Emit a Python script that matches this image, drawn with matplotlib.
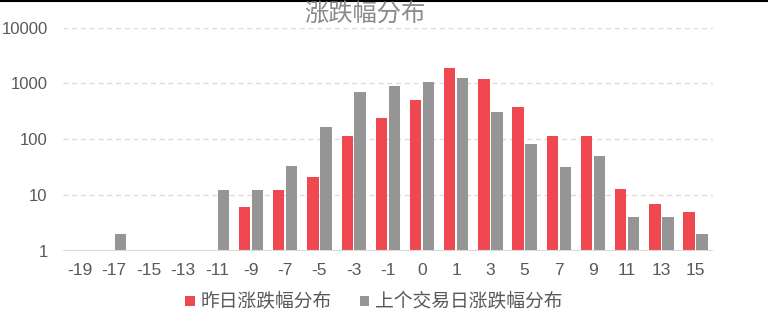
import matplotlib

matplotlib.use("Agg")

import matplotlib.pyplot as plt
import numpy as np
from matplotlib.lines import Line2D
from matplotlib.patches import Patch

plt.rcParams["font.family"] = ["Noto Sans CJK SC", "DejaVu Sans"]

categories = ["-19", "-17", "-15", "-13", "-11", "-9", "-7", "-5", "-3", "-1",
              "0", "1", "3", "5", "7", "9", "11", "13", "15"]
yesterday = [0, 0, 0, 0, 0, 6, 12, 21, 112, 237, 500, 1900, 1200, 373, 116, 112, 13, 7, 5]
prev_day = [0, 2, 0, 0, 12, 12, 33, 163, 700, 900, 1060, 1260, 304, 83, 32, 50, 4, 4, 2]
y_ticks = [1, 10, 100, 1000, 10000]

red = "#F04850"
gray = "#959595"
text_color = "#595959"
grid_color = "#D9D9D9"

x = np.arange(len(categories))
red_vals = np.array([v if v > 0 else np.nan for v in yesterday], dtype=float)
gray_vals = np.array([v if v > 0 else np.nan for v in prev_day], dtype=float)

fig = plt.figure(figsize=(7.68, 3.36), dpi=100)
ax = fig.add_axes([0.082, 0.254, 0.846, 0.664])

bar_w = 0.33
ax.bar(x - 0.19, red_vals, width=bar_w, color=red, zorder=3)
ax.bar(x + 0.19, gray_vals, width=bar_w, color=gray, zorder=3)

ax.set_yscale("log")
ax.set_ylim(1, 10000)
ax.set_xlim(-0.5, len(categories) - 0.5)

ax.set_yticks(y_ticks)
ax.set_yticklabels([str(t) for t in y_ticks], family="Liberation Sans", fontsize=12, color=text_color)
ax.yaxis.set_minor_locator(matplotlib.ticker.NullLocator())
ax.set_xticks(x)
ax.set_xticklabels(categories, family="Liberation Sans", fontsize=12.5, color=text_color)
ax.tick_params(axis="y", length=0, pad=11)
ax.tick_params(axis="x", length=0, pad=9)

for t in y_ticks[1:]:
    ax.axhline(t, color=grid_color, linestyle=(0, (4, 3)), linewidth=0.9, zorder=1)
ax.axhline(1, color=grid_color, linewidth=1.5, zorder=4)

for side in ("top", "right", "left", "bottom"):
    ax.spines[side].set_visible(False)

fig.text(0.475, 0.958, "涨跌幅分布", ha="center", va="center", fontsize=17.5,
         fontweight="light", color="#8A8A8A")

handles = [Patch(facecolor=red), Patch(facecolor=gray)]
fig.legend(handles, ["昨日涨跌幅分布", "上个交易日涨跌幅分布"], loc="center",
           bbox_to_anchor=(0.487, 0.101), ncol=2, frameon=False, fontsize=13.5,
           labelcolor=text_color, handlelength=0.5, handleheight=0.5,
           handletextpad=0.32, columnspacing=1.5, borderpad=0.2)

# thin black rule across the top edge
fig.add_artist(Line2D([0, 1], [0.997, 0.997], transform=fig.transFigure, color="black", linewidth=1.5))

fig.savefig("out.png", dpi=100)
